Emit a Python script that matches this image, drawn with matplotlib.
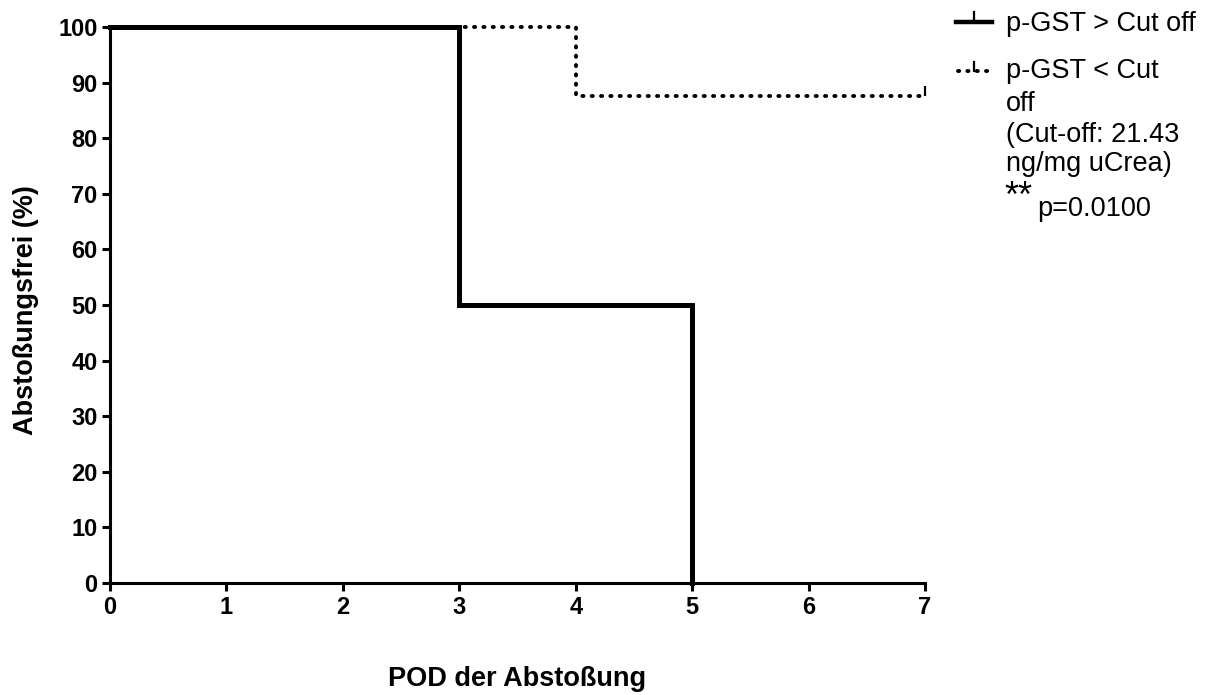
import matplotlib
matplotlib.use("Agg")
import matplotlib.pyplot as plt
from matplotlib.lines import Line2D
from matplotlib.path import Path

W, H = 1215, 695

# Kaplan-Meier Stufen (Tag, Anteil abstoßungsfrei in %)
high_days = [0, 3, 3, 5, 5]
high_surv = [100, 100, 50, 50, 0]

low_days = [0, 4, 4, 7]
low_surv = [100, 100, 87.5, 87.5]
low_censored_day = [7]
low_censored_surv = [87.5]

x_ticks = [0, 1, 2, 3, 4, 5, 6, 7]
y_ticks = [0, 10, 20, 30, 40, 50, 60, 70, 80, 90, 100]

plt.rcParams["font.family"] = ["Liberation Sans", "DejaVu Sans"]

DOTS = (0, (0.3, 2.1))


def fx(px):
    return px / W


def fy(py):
    return 1 - py / H


fig = plt.figure(figsize=(W / 100, H / 100), dpi=100, facecolor="white")
ax = fig.add_axes([fx(110), fy(583), fx(925) - fx(110), fy(27) - fy(583)])

# Zensur-Strich nach oben
tick_up = Path([(0, 0), (0, 1)], [Path.MOVETO, Path.LINETO])

ax.plot(low_days, low_surv, color="black", lw=2.8, linestyle=DOTS,
        dash_capstyle="round", zorder=2, clip_on=False)
ax.plot(low_censored_day, low_censored_surv, linestyle="none", marker=tick_up,
        markersize=14, mew=1.6, mec="black", zorder=3, clip_on=False)
ax.plot(high_days, high_surv, color="black", lw=3.6,
        solid_joinstyle="miter", zorder=4, clip_on=False)

ax.set_xlim(0, 7)
ax.set_ylim(0, 100)
ax.set_xticks(x_ticks)
ax.set_yticks(y_ticks)
for s in ["top", "right"]:
    ax.spines[s].set_visible(False)
for s in ["left", "bottom"]:
    ax.spines[s].set_linewidth(2.2)
ax.tick_params(direction="out", length=6, width=2.2, labelsize=17, pad=3)
for lab in ax.get_xticklabels() + ax.get_yticklabels():
    lab.set_fontweight("bold")

fig.text(fx(517), fy(686), "POD der Abstoßung", ha="center", va="baseline",
         fontsize=19.5, fontweight="bold")
fig.text(fx(26), fy(310), "Abstoßungsfrei (%)", ha="center", va="center",
         rotation=90, fontsize=19.5, fontweight="bold")

# Legende
fig.add_artist(Line2D([fx(956), fx(992)], [fy(22), fy(22)], color="black",
                      lw=3.2, transform=fig.transFigure))
fig.add_artist(Line2D([fx(973.5), fx(973.5)], [fy(22), fy(12)], color="black",
                      lw=1.6, transform=fig.transFigure))
fig.add_artist(Line2D([fx(958), fx(990)], [fy(71), fy(71)], color="black",
                      lw=2.8, linestyle=DOTS, dash_capstyle="round",
                      transform=fig.transFigure))
fig.add_artist(Line2D([fx(973.5), fx(973.5)], [fy(71), fy(62)], color="black",
                      lw=1.6, transform=fig.transFigure))

legend_lines = [
    ("p-GST > Cut off", 31),
    ("p-GST < Cut", 78),
    ("off", 111),
    ("(Cut-off: 21.43", 142),
    ("ng/mg uCrea)", 171),
]
for txt, base in legend_lines:
    fig.text(fx(1006), fy(base), txt, ha="left", va="baseline", fontsize=19.5)
fig.text(fx(1004), fy(207), "**", ha="left", va="baseline", fontsize=26)
fig.text(fx(1037), fy(216), "p=0.0100", ha="left", va="baseline", fontsize=19.5)

fig.savefig("out.png", dpi=100, facecolor="white")
